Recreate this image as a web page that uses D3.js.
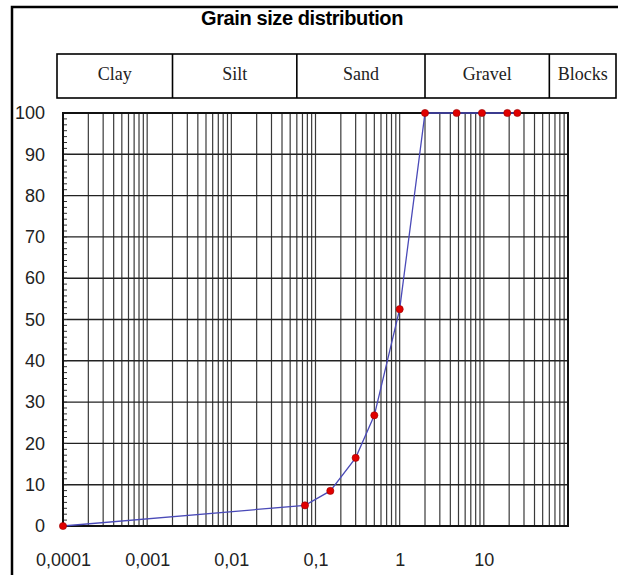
<!DOCTYPE html>
<html>
<head>
<meta charset="utf-8">
<script src="https://cdn.jsdelivr.net/npm/d3@7"></script>
<style>
  body { margin: 0; background: #fff; }
  svg { display: block; }
</style>
</head>
<body>
<div id="chart"></div>
<script>
// data
var sizes = [0.0001, 0.075, 0.15, 0.3, 0.5, 1, 2, 4.75, 9.5, 19, 25];
var passing = [0, 5, 8.5, 16.5, 26.8, 52.5, 100, 100, 100, 100, 100];
var classNames = ["Clay", "Silt", "Sand", "Gravel", "Blocks"];
var classBounds = [0.002, 0.06, 2, 60];
var xTicks = [0.0001, 0.001, 0.01, 0.1, 1, 10];
var xTickLabels = ["0,0001", "0,001", "0,01", "0,1", "1", "10"];
var yTicks = [0, 10, 20, 30, 40, 50, 60, 70, 80, 90, 100];

var W = 618, H = 575;
var svg = d3.select("#chart").append("svg")
  .attr("width", W).attr("height", H);

// outer frame (top + left only, like the cropped picture)
svg.append("path")
  .attr("d", "M12,575V7H618")
  .attr("fill", "none").attr("stroke", "#000").attr("stroke-width", 2.5);

var x = d3.scaleLog().domain([1e-4, 100]).range([63, 568]);
var y = d3.scaleLinear().domain([0, 100]).range([526, 113]);

// title
svg.append("text")
  .attr("x", 302).attr("y", 25)
  .attr("text-anchor", "middle")
  .attr("font-family", "Liberation Sans, Arial, sans-serif")
  .attr("font-weight", "bold")
  .attr("font-size", 20)
  .attr("letter-spacing", -0.4)
  .text("Grain size distribution");

// class band
var bandTop = 54, bandBot = 98;
var edges = [57].concat(classBounds.map(function(d){ return x(d); })).concat([616]);
var band = svg.append("g");
band.append("rect")
  .attr("x", edges[0]).attr("y", bandTop)
  .attr("width", edges[edges.length-1] - edges[0]).attr("height", bandBot - bandTop)
  .attr("fill", "none").attr("stroke", "#000").attr("stroke-width", 1.6);
band.selectAll("line.div")
  .data(classBounds)
  .enter().append("line")
  .attr("x1", function(d){ return x(d); }).attr("x2", function(d){ return x(d); })
  .attr("y1", bandTop).attr("y2", bandBot)
  .attr("stroke", "#000").attr("stroke-width", 1.6);
band.selectAll("text")
  .data(classNames)
  .enter().append("text")
  .attr("x", function(d, i){ return (edges[i] + edges[i+1]) / 2; })
  .attr("y", 80)
  .attr("text-anchor", "middle")
  .attr("font-family", "Liberation Serif, Times New Roman, serif")
  .attr("font-size", 18)
  .attr("fill", "#222")
  .text(function(d){ return d; });

// vertical grid: every integer multiple in each decade
var vGrid = [];
for (var e = -4; e < 2; e++) {
  for (var m = 1; m <= 9; m++) vGrid.push(m * Math.pow(10, e));
}
svg.append("g").selectAll("line")
  .data(vGrid)
  .enter().append("line")
  .attr("x1", function(d){ return x(d); }).attr("x2", function(d){ return x(d); })
  .attr("y1", y(100)).attr("y2", y(0))
  .attr("stroke", "#3a3a3a").attr("stroke-width", 1.2);

// horizontal grid
svg.append("g").selectAll("line")
  .data(yTicks)
  .enter().append("line")
  .attr("x1", x.range()[0]).attr("x2", x.range()[1])
  .attr("y1", function(d){ return y(d); }).attr("y2", function(d){ return y(d); })
  .attr("stroke", "#222").attr("stroke-width", 1.4);

// minor ticks on the y axis, pointing inward
var yMinor = d3.range(0, 100, 10 / 7);
svg.append("g").selectAll("line")
  .data(yMinor)
  .enter().append("line")
  .attr("x1", x.range()[0]).attr("x2", x.range()[0] + 4)
  .attr("y1", function(d){ return y(d); }).attr("y2", function(d){ return y(d); })
  .attr("stroke", "#333").attr("stroke-width", 1);

// plot border
svg.append("rect")
  .attr("x", x.range()[0]).attr("y", y(100))
  .attr("width", x.range()[1] - x.range()[0]).attr("height", y(0) - y(100))
  .attr("fill", "none").attr("stroke", "#111").attr("stroke-width", 2);

// y axis labels
var yAxis = d3.axisLeft(y).tickValues(yTicks).tickSize(0).tickPadding(18);
svg.append("g")
  .attr("transform", "translate(" + x.range()[0] + ",0)")
  .call(yAxis)
  .call(function(g){
    g.select(".domain").remove();
    g.selectAll("text")
      .attr("font-family", "Liberation Sans, Arial, sans-serif")
      .attr("font-size", 18).attr("fill", "#222");
  });

// x axis labels
var xAxis = d3.axisBottom(x).tickValues(xTicks)
  .tickFormat(function(d, i){ return xTickLabels[i]; })
  .tickSize(0).tickPadding(27);
svg.append("g")
  .attr("transform", "translate(0," + y(0) + ")")
  .call(xAxis)
  .call(function(g){
    g.select(".domain").remove();
    g.selectAll("text")
      .attr("font-family", "Liberation Sans, Arial, sans-serif")
      .attr("font-size", 18).attr("fill", "#222");
  });

// curve
var pts = sizes.map(function(s, i){ return [s, passing[i]]; });
svg.append("path")
  .datum(pts)
  .attr("fill", "none")
  .attr("stroke", "#4a4ab8")
  .attr("stroke-width", 1.3)
  .attr("d", d3.line()
    .x(function(d){ return x(d[0]); })
    .y(function(d){ return y(d[1]); }));

svg.append("g").selectAll("circle")
  .data(pts)
  .enter().append("circle")
  .attr("cx", function(d){ return x(d[0]); })
  .attr("cy", function(d){ return y(d[1]); })
  .attr("r", 3.6)
  .attr("fill", "#e00000")
  .attr("stroke", "#900").attr("stroke-width", 0.6);
</script>
</body>
</html>
